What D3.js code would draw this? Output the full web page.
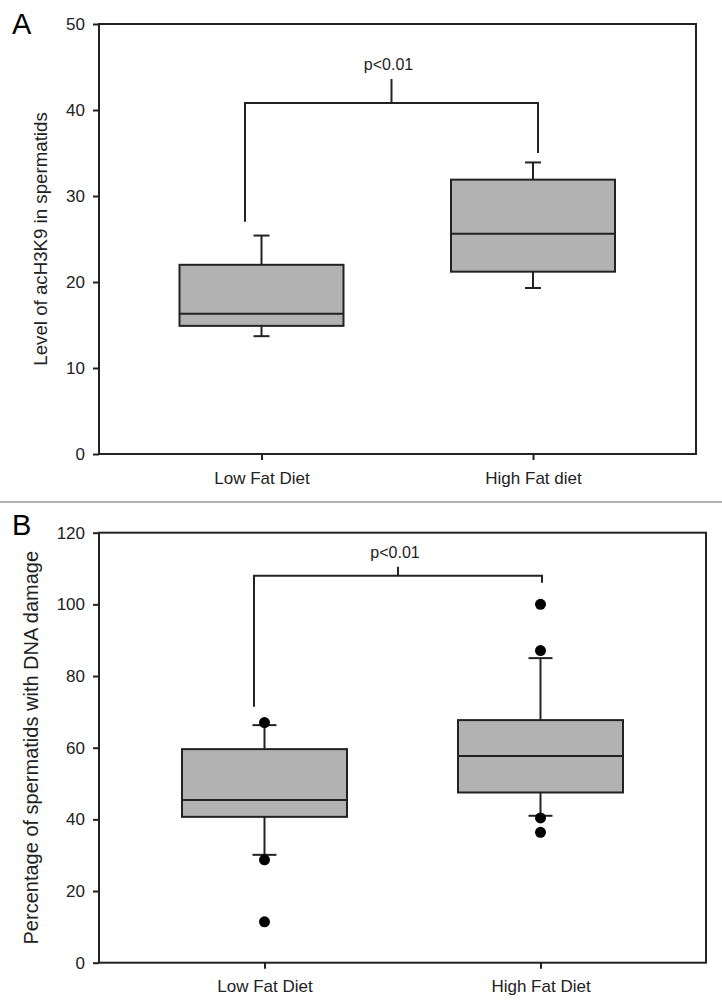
<!DOCTYPE html>
<html>
<head>
<meta charset="utf-8">
<script src="https://cdn.jsdelivr.net/npm/d3@7"></script>
<style>
  body { margin: 0; background: #fff; }
  svg { display: block; font-family: "Liberation Sans", Arial, sans-serif; }
</style>
</head>
<body>
<div id="chart"></div>
<script>
// Panel A: level of acH3K9 in spermatids
const groupsA = ['Low Fat Diet', 'High Fat diet'];
const whiskerLowA = [13.7, 19.3];
const q1A = [14.9, 21.2];
const medianA = [16.3, 25.6];
const q3A = [22.0, 31.9];
const whiskerHighA = [25.4, 33.9];
const outliersA = [[], []];
const ticksA = [0, 10, 20, 30, 40, 50];
const bracketA = { leftFoot: 27, rightFoot: 35, bar: 40.8, top: 43.6, label: 'p<0.01' };

// Panel B: percentage of spermatids with DNA damage
const groupsB = ['Low Fat Diet', 'High Fat Diet'];
const whiskerLowB = [30.1, 41.0];
const q1B = [40.7, 47.5];
const medianB = [45.4, 57.7];
const q3B = [59.6, 67.7];
const whiskerHighB = [66.3, 85.0];
const outliersB = [[67.0, 28.7, 11.4], [100.0, 87.1, 40.4, 36.4]];
const ticksB = [0, 20, 40, 60, 80, 100, 120];
const bracketB = { leftFoot: 71.4, rightFoot: 106, bar: 108, top: 110.5, label: 'p<0.01' };

const ink = '#222';
const svg = d3.select('#chart').append('svg')
  .attr('width', 722)
  .attr('height', 1006);

function drawPanel(p) {
  const y = d3.scaleLinear().domain([0, d3.max(p.ticks)]).range([p.bottom, p.top]);
  const x = d3.scalePoint().domain(p.groups).range(p.centers);
  const g = svg.append('g');

  // frame
  g.append('rect')
    .attr('x', p.left).attr('y', p.top)
    .attr('width', p.right - p.left).attr('height', p.bottom - p.top)
    .attr('fill', 'none').attr('stroke', ink).attr('stroke-width', 2);

  // y axis
  const ya = g.append('g')
    .attr('transform', `translate(${p.left},0)`)
    .call(d3.axisLeft(y).tickValues(p.ticks).tickSize(6).tickPadding(8));
  ya.select('.domain').remove();
  ya.selectAll('line').attr('stroke', ink).attr('stroke-width', 2);
  ya.selectAll('text').attr('fill', ink).style('font-size', '17px').style('font-family', 'inherit');

  // x axis
  const xa = g.append('g')
    .attr('transform', `translate(0,${p.bottom})`)
    .call(d3.axisBottom(x).tickSize(6).tickPadding(p.xPad));
  xa.select('.domain').remove();
  xa.selectAll('line').attr('stroke', ink).attr('stroke-width', 2);
  xa.selectAll('text').attr('fill', ink).style('font-size', '17px').style('font-family', 'inherit');

  // y label
  g.append('text')
    .attr('transform', `translate(${p.yLabelX},${(p.top + p.bottom) / 2}) rotate(-90)`)
    .attr('text-anchor', 'middle')
    .style('font-size', p.yLabelSize + 'px')
    .attr('fill', ink)
    .text(p.yLabel);

  // panel letter
  g.append('text')
    .attr('x', 12).attr('y', p.letterY)
    .style('font-size', '29px')
    .attr('fill', '#000')
    .text(p.letter);

  // boxes
  p.groups.forEach((grp, i) => {
    const cx = x(grp);
    const half = p.boxW / 2;
    const cap = p.capW / 2;
    const box = g.append('g');
    box.append('line')
      .attr('x1', cx).attr('x2', cx)
      .attr('y1', y(p.q3[i])).attr('y2', y(p.whiskerHigh[i]));
    box.append('line')
      .attr('x1', cx - cap).attr('x2', cx + cap)
      .attr('y1', y(p.whiskerHigh[i])).attr('y2', y(p.whiskerHigh[i]));
    box.append('line')
      .attr('x1', cx).attr('x2', cx)
      .attr('y1', y(p.q1[i])).attr('y2', y(p.whiskerLow[i]));
    box.append('line')
      .attr('x1', cx - cap).attr('x2', cx + cap)
      .attr('y1', y(p.whiskerLow[i])).attr('y2', y(p.whiskerLow[i]));
    box.append('rect')
      .attr('x', cx - half).attr('width', p.boxW)
      .attr('y', y(p.q3[i])).attr('height', y(p.q1[i]) - y(p.q3[i]))
      .attr('fill', '#b2b2b2');
    box.append('line')
      .attr('x1', cx - half).attr('x2', cx + half)
      .attr('y1', y(p.median[i])).attr('y2', y(p.median[i]));
    box.selectAll('line').attr('stroke', ink).attr('stroke-width', 2);
    box.select('rect').attr('stroke', ink).attr('stroke-width', 2);

    box.selectAll('circle')
      .data(p.outliers[i])
      .enter().append('circle')
      .attr('cx', cx)
      .attr('cy', d => y(d))
      .attr('r', 5.5)
      .attr('fill', '#000');
  });

  // significance bracket
  const b = p.bracket;
  const lx = x(p.groups[0]) + p.bracketOffsets[0];
  const rx = x(p.groups[1]) + p.bracketOffsets[1];
  const mx = (lx + rx) / 2;
  g.append('path')
    .attr('d', `M${lx},${y(b.leftFoot)}V${y(b.bar)}H${rx}V${y(b.rightFoot)}M${mx},${y(b.bar)}V${y(b.top)}`)
    .attr('fill', 'none').attr('stroke', ink).attr('stroke-width', 2);
  g.append('text')
    .attr('x', mx - 3).attr('y', y(b.top) - 9)
    .attr('text-anchor', 'middle')
    .style('font-size', '16px')
    .attr('fill', ink)
    .text(b.label);
}

drawPanel({
  letter: 'A', letterY: 34,
  left: 99, right: 696, top: 24, bottom: 454,
  centers: [261.5, 533], boxW: 164, capW: 16, xPad: 12,
  groups: groupsA, ticks: ticksA,
  whiskerLow: whiskerLowA, q1: q1A, median: medianA, q3: q3A, whiskerHigh: whiskerHighA,
  outliers: outliersA, bracket: bracketA, bracketOffsets: [-16.5, 5],
  yLabel: 'Level of acH3K9 in spermatids', yLabelX: 47, yLabelSize: 18.7
});

// divider between the panels
svg.append('line')
  .attr('x1', 0).attr('x2', 722)
  .attr('y1', 502).attr('y2', 502)
  .attr('stroke', '#999').attr('stroke-width', 1.5);

drawPanel({
  letter: 'B', letterY: 535,
  left: 99, right: 706, top: 532.7, bottom: 962.7,
  centers: [264.5, 540.5], boxW: 165, capW: 24, xPad: 11,
  groups: groupsB, ticks: ticksB,
  whiskerLow: whiskerLowB, q1: q1B, median: medianB, q3: q3B, whiskerHigh: whiskerHighB,
  outliers: outliersB, bracket: bracketB, bracketOffsets: [-10.5, 1.5],
  yLabel: 'Percentage of spermatids with DNA damage', yLabelX: 37.5, yLabelSize: 20
});
</script>
</body>
</html>
